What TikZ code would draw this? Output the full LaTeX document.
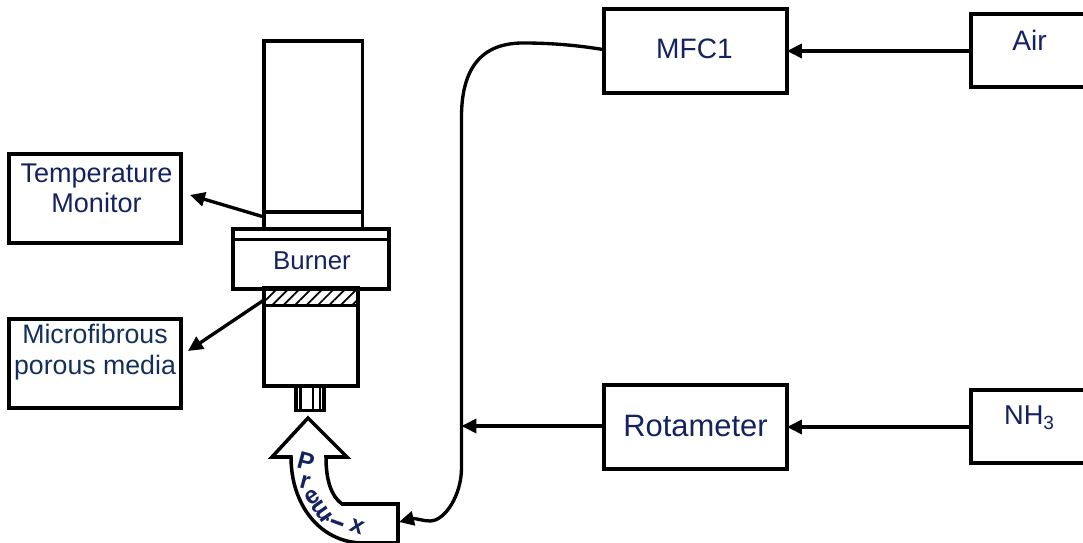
\documentclass[tikz,border=0pt]{standalone}
\usepackage{fontspec}
\setmainfont{Liberation Sans}
\usepackage{xcolor}
\usepackage{tikz}
\usetikzlibrary{arrows.meta,patterns.meta}

\definecolor{labelblue}{HTML}{14225F}
\definecolor{labelteal}{HTML}{14305A}

\tikzset{
    box/.style={draw, line width=2pt, minimum width=#1, inner sep=0pt, outer sep=0pt},
    lbl/.style={text=labelblue, inner sep=0pt, align=center},
    pipe/.style={line width=2pt},
    flow/.style={line width=1.9pt, -{Triangle[length=8.5pt,width=8pt]}},
}

\begin{document}
\begin{tikzpicture}[x=0.02cm, y=-0.02cm]
            \path[use as bounding box] (0,0) rectangle (1083,543);
            \clip (0,0) rectangle (1083,543);

            % boxes
            \node [box=172*0.02cm, minimum height=89*0.02cm] (temp) at (95,198.5) {};
            \node [box=172*0.02cm, minimum height=89*0.02cm] (micro) at (95,363.5) {};
            \node [box=183*0.02cm, minimum height=84*0.02cm] (mfc) at (695.5,51) {};
            \node [box=183*0.02cm, minimum height=84*0.02cm] (rota) at (695.5,427) {};
            \node [box=160*0.02cm, minimum height=73*0.02cm] (air) at (1051,50.5) {};
            \node [box=160*0.02cm, minimum height=73*0.02cm] (nh) at (1051,426.5) {};

            % burner
            \draw[pipe] (264,229) -- (264,41) -- (362.5,41) -- (362.5,229);
            \draw[pipe] (264,212) -- (362.5,212);
            \node [box=156*0.02cm, minimum height=60*0.02cm] (burner) at (311,259) {};
            \draw[pipe] (233,239.5) -- (389,239.5);
            \node [box=94*0.02cm, minimum height=18*0.02cm, pattern={Lines[angle=45,distance=4.6pt,line width=1pt]}] (mesh) at (311,296.5) {};
            \draw[pipe] (264,305.5) -- (264,386) -- (358,386) -- (358,305.5);
            \draw[pipe] (296,386) rectangle (324,410.5);
            \draw[line width=1.2pt] (300.5,386) -- (300.5,410) (313,386) -- (313,410) (320,386) -- (320,410);

            % premix arrow
            \draw[pipe] (398,504) -- (342,504)
                .. controls (331,496) and (326,480) .. (326,457)
                -- (347,457) -- (308,418) -- (272,457) -- (291,457)
                .. controls (291,505) and (320,542) .. (362,543)
                -- (398,543) -- cycle;

            \coordinate (mixin) at (399,522);
            \coordinate (tempend) at (190,195);
            \coordinate (microend) at (188,351);
            \coordinate (tempstart) at (264,217);
            \coordinate (microstart) at (264,300);
            \coordinate (join) at (461.5,426);

            % connectors
            \draw[flow] (air.west |- mfc.center) -- (mfc.east);
            \draw[flow] (nh.west |- rota.center) -- (rota.east);
            \draw[flow] (rota.west |- join) -- (join);
            \draw[flow] (tempstart) -- (tempend);
            \draw[flow] (microstart) -- (microend);
            \draw[flow] (603,49.5) .. controls (575,45) and (550,43) .. (523,43)
                .. controls (480,43) and (461.5,70) .. (461.5,117)
                -- (461.5,468)
                .. controls (461.5,495) and (445,521) .. (430,521)
                .. controls (423,521) and (415,518) .. (mixin);

            % labels
            \node [lbl, font=\fontsize{15.4pt}{17pt}\selectfont] (templbl) at (96.5,188) {Temperature\\Monitor};
            \node [lbl, text=labelteal, font=\fontsize{15.2pt}{17.3pt}\selectfont] (microlbl) at (95,352) {Microfibrous\\porous media};
            \node [lbl, font=\fontsize{14.7pt}{17pt}\selectfont] (burnerlbl) at (312,261) {Burner};
            \node [lbl, font=\fontsize{16pt}{18pt}\selectfont] (mfclbl) at (694.5,49) {MFC1};
            \node [lbl, font=\fontsize{17.6pt}{20pt}\selectfont] (rotalbl) at (695.5,426) {Rotameter};
            \node [lbl, font=\fontsize{16pt}{18pt}\selectfont] (airlbl) at (1029.5,40) {Air};
            \node [lbl, font=\fontsize{15.5pt}{18pt}\selectfont] (nhlbl) at (1029.5,418) {NH\textsubscript{3}};

            % curved word
            \foreach \ch/\px/\py/\ang [count=\i] in {P/306/461/-15, r/305/482/-15, e/312/497/35, m/322/511/125, i/335/522/70, x/357/527/-20}
                \node [lbl, font=\fontsize{14pt}{16pt}\bfseries\selectfont, rotate=\ang] (mixch\i) at (\px,\py) {\ch};
\end{tikzpicture}
\end{document}
